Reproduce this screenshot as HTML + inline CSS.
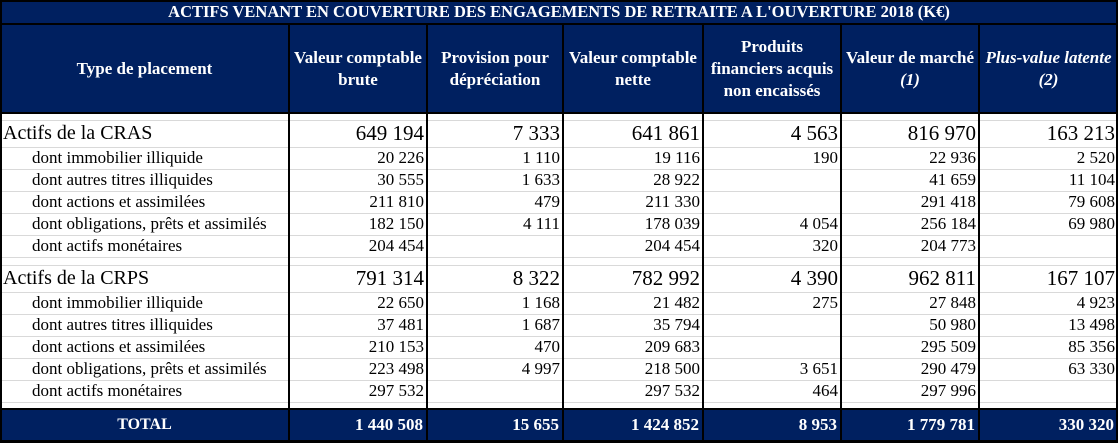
<!DOCTYPE html>
<html><head><meta charset="utf-8">
<style>
html,body{margin:0;padding:0;background:#fff;}
#t{position:relative;width:1118px;height:443px;overflow:hidden;font-family:"Liberation Serif",serif;color:#000;}
.bg{position:absolute;background:#002060;}
.v{position:absolute;background:#000;width:2px;}
.h{position:absolute;background:#d9d9d9;height:1px;}
.hb{position:absolute;background:#000;height:2px;}
.c{position:absolute;white-space:nowrap;display:flex;align-items:center;box-sizing:border-box;}
.hd{color:#fff;font-weight:bold;font-size:17px;line-height:22px;text-align:center;justify-content:center;}
</style></head><body>
<div id="t">
  <div class="bg" style="left:0;top:0;width:1118px;height:113px"></div>
  <div class="bg" style="left:0;top:409px;width:1118px;height:34px"></div>
  <div class="c hd" style="left:0;top:0;width:1118px;height:24px;font-size:16.5px"><span>ACTIFS VENANT EN COUVERTURE DES ENGAGEMENTS DE RETRAITE A L'OUVERTURE 2018 (K€)</span></div>
  <div class="hb" style="left:0;top:23px;width:1118px"></div>
  <div class="c hd" style="left:0;top:24px;width:289px;height:89px"><span>Type de placement</span></div>
  <div class="c hd" style="left:289px;top:24px;width:138px;height:89px"><span>Valeur comptable<br>brute</span></div>
  <div class="c hd" style="left:427px;top:24px;width:136px;height:89px"><span>Provision pour<br>dépréciation</span></div>
  <div class="c hd" style="left:563px;top:24px;width:140px;height:89px"><span>Valeur comptable<br>nette</span></div>
  <div class="c hd" style="left:703px;top:24px;width:138px;height:89px"><span>Produits<br>financiers acquis<br>non encaissés</span></div>
  <div class="c hd" style="left:841px;top:24px;width:138px;height:89px"><span>Valeur de marché<br><i>(1)</i></span></div>
  <div class="c hd" style="left:979px;top:24px;width:139px;height:89px"><span><i>Plus-value latente<br>(2)</i></span></div>
</div>
<script>
const labels=["Actifs de la CRAS","dont immobilier illiquide","dont autres titres illiquides","dont actions et assimilées","dont obligations, prêts et assimilés","dont actifs monétaires","","Actifs de la CRPS","dont immobilier illiquide","dont autres titres illiquides","dont actions et assimilées","dont obligations, prêts et assimilés","dont actifs monétaires"];
const colGross=["649 194","20 226","30 555","211 810","182 150","204 454","","791 314","22 650","37 481","210 153","223 498","297 532"];
const colProv=["7 333","1 110","1 633","479","4 111","","","8 322","1 168","1 687","470","4 997",""];
const colNet=["641 861","19 116","28 922","211 330","178 039","204 454","","782 992","21 482","35 794","209 683","218 500","297 532"];
const colIncome=["4 563","190","","","4 054","320","","4 390","275","","","3 651","464"];
const colMarket=["816 970","22 936","41 659","291 418","256 184","204 773","","962 811","27 848","50 980","295 509","290 479","297 996"];
const colGain=["163 213","2 520","11 104","79 608","69 980","","","167 107","4 923","13 498","85 356","63 330",""];
const totals=["1 440 508","15 655","1 424 852","8 953","1 779 781","330 320"];
const colX=[0,289,427,563,703,841,979,1118];
const rowTops=[120,147,169,191,213,235,257,265,292,314,336,358,380];
const rowH=[27,22,22,22,22,22,8,27,22,22,22,22,22];
const t=document.getElementById('t');
const cols=[colGross,colProv,colNet,colIncome,colMarket,colGain];
[113,120,147,169,191,213,235,257,265,292,314,336,358,380,402].forEach(y=>{
  const l=document.createElement('div');l.className='h';
  l.style.cssText=`left:0;top:${y}px;width:1118px`;
  
  
  t.appendChild(l);
});
labels.forEach((lab,i)=>{
  if(!lab)return;
  const big=lab.startsWith('Actifs');
  const d=document.createElement('div');d.className='c';
  d.style.cssText=`left:${big?3:32}px;top:${rowTops[i]}px;height:${rowH[i]}px;font-size:${big?20:17}px`;
  d.textContent=lab;
  
  
  t.appendChild(d);
  cols.forEach((col,j)=>{
    if(!col[i])return;
    const c=document.createElement('div');c.className='c';
    c.style.cssText=`left:${colX[j+1]}px;top:${rowTops[i]}px;width:${colX[j+2]-colX[j+1]-3}px;height:${rowH[i]}px;justify-content:flex-end;font-size:${big?21:17}px`;
    c.textContent=col[i];
    
    
    t.appendChild(c);
  });
});
const tl=document.createElement('div');tl.className='c hd';
tl.style.cssText='left:0;top:409px;width:289px;height:32px;font-size:16px';
tl.textContent='TOTAL';


t.appendChild(tl);
totals.forEach((v,j)=>{
  const c=document.createElement('div');c.className='c';
  c.style.cssText=`left:${colX[j+1]}px;top:409px;width:${colX[j+2]-colX[j+1]-4}px;height:32px;justify-content:flex-end;color:#fff;font-weight:bold;font-size:17px`;
  c.textContent=v;
  
  
  t.appendChild(c);
});
colX.forEach((x,i)=>{
  const v=document.createElement('div');v.className='v';
  const edge=(i===0||i===colX.length-1);
  const lx=i===0?0:(i===colX.length-1?1116:x-1);
  v.style.cssText=`left:${lx}px;top:${edge?0:23}px;height:${edge?443:420}px`;
  
  
  t.appendChild(v);
});
[[0,2],[112,2],[408,2],[440,3]].forEach(([y,hh])=>{
  const b=document.createElement('div');b.className='hb';
  b.style.cssText=`left:0;top:${y}px;width:1118px;height:${hh}px`;
  
  
  t.appendChild(b);
});
</script>
</body></html>
